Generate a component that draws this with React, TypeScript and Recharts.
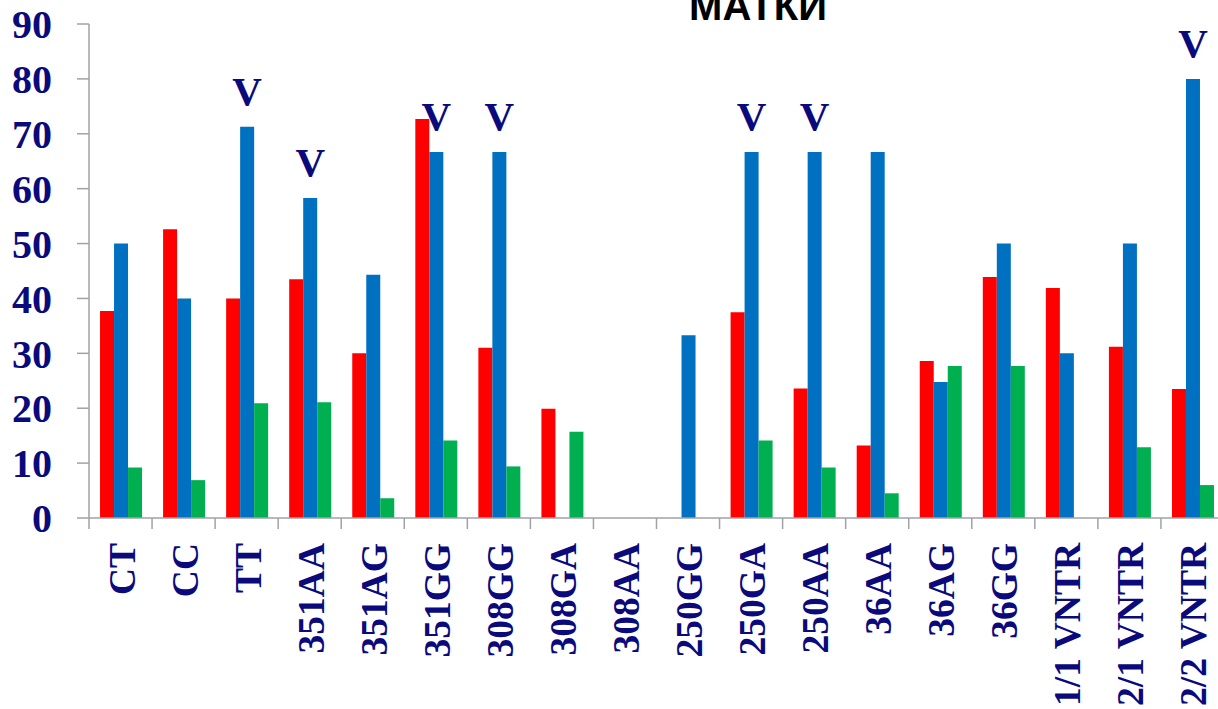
import React from 'react';
import { BarChart, Bar, XAxis, YAxis, LabelList } from 'recharts';

const categories = ['CT', 'CC', 'TT', '351AA', '351AG', '351GG', '308GG', '308GA', '308AA', '250GG', '250GA', '250AA', '36AA', '36AG', '36GG', '1/1 VNTR', '2/1 VNTR', '2/2 VNTR'];
const redValues = [37.7, 52.6, 40, 43.5, 30, 72.7, 31, 19.9, 0, 0, 37.5, 23.6, 13.2, 28.6, 43.9, 41.9, 31.2, 23.5];
const blueValues = [50, 40, 71.3, 58.3, 44.3, 66.7, 66.7, 0, 0, 33.3, 66.7, 66.7, 66.7, 24.8, 50, 30, 50, 80];
const greenValues = [9.2, 6.9, 20.9, 21.1, 3.6, 14.1, 9.4, 15.7, 0, 0, 14.1, 9.2, 4.5, 27.7, 27.7, 0, 12.9, 6];
const marks = ['', '', 'V', 'V', '', 'V', 'V', '', '', '', 'V', 'V', '', '', '', '', '', 'V'];
const yTicks = [0, 10, 20, 30, 40, 50, 60, 70, 80, 90];

const data = categories.map((name, i) => ({
  name,
  red: redValues[i],
  blue: blueValues[i],
  green: greenValues[i],
  mark: marks[i],
}));

const NAVY = '#0a0a7c';
const AXIS = '#a0a2aa';
const SERIF = "'Liberation Serif', 'Times New Roman', serif";

// category labels sit below the axis, rotated, with ticks at the band edges
const XTick = (props: any) => {
  const { x, y, payload, width } = props;
  const band = width / categories.length;
  const last = payload.index === categories.length - 1;
  return (
    <g>
      <line x1={x - band / 2} y1={y} x2={x - band / 2} y2={y + 11} stroke={AXIS} strokeWidth={1.5} />
      {last && <line x1={x + band / 2} y1={y} x2={x + band / 2} y2={y + 11} stroke={AXIS} strokeWidth={1.5} />}
      <text
        x={x + 14}
        y={y + 25}
        transform={`rotate(-90, ${x + 14}, ${y + 25})`}
        textAnchor="end"
        fill={NAVY}
        fontSize={37.5}
        fontWeight="bold"
        fontFamily={SERIF}
      >
        {payload.value}
      </text>
    </g>
  );
};

const VMark = (props: any) => {
  const { x, y, width, value } = props;
  if (!value) return null;
  return (
    <text
      x={Number(x) + Number(width) / 2}
      y={Number(y) - 22}
      textAnchor="middle"
      fill={NAVY}
      fontSize={41}
      fontWeight="bold"
      fontFamily={SERIF}
    >
      {value}
    </text>
  );
};

export default function App() {
  return (
    <div style={{ position: 'absolute', left: 0, top: 0, width: 1218, height: 709, overflow: 'hidden', background: '#fff' }}>
      <BarChart
        width={1240}
        height={709}
        data={data}
        margin={{ top: 24, right: 16, bottom: 0, left: 0 }}
        barCategoryGap="17.5%"
        barGap={0}
      >
        <XAxis
          dataKey="name"
          height={191}
          interval={0}
          axisLine={{ stroke: AXIS, strokeWidth: 1.5 }}
          tickLine={false}
          tickSize={0}
          tickMargin={0}
          tick={<XTick />}
        />
        <YAxis
          width={89}
          domain={[0, 90]}
          ticks={yTicks}
          interval={0}
          axisLine={{ stroke: AXIS, strokeWidth: 1.5 }}
          tickLine={{ stroke: AXIS, strokeWidth: 1.5 }}
          tickSize={12}
          tickMargin={25}
          tick={{ fill: NAVY, fontSize: 40, fontWeight: 'bold', fontFamily: SERIF }}
        />
        <Bar dataKey="red" fill="#ff0000" isAnimationActive={false} />
        <Bar dataKey="blue" fill="#0070c0" isAnimationActive={false}>
          <LabelList dataKey="mark" content={<VMark />} />
        </Bar>
        <Bar dataKey="green" fill="#00b050" isAnimationActive={false} />
      </BarChart>
      <svg width={1218} height={60} style={{ position: 'absolute', left: 0, top: 0, pointerEvents: 'none' }}>
        <text x={758} y={20} textAnchor="middle" fontSize={40} fontWeight="bold" fontFamily="'Liberation Sans', Arial, sans-serif" fill="#000">
          МАТКИ
        </text>
      </svg>
    </div>
  );
}
